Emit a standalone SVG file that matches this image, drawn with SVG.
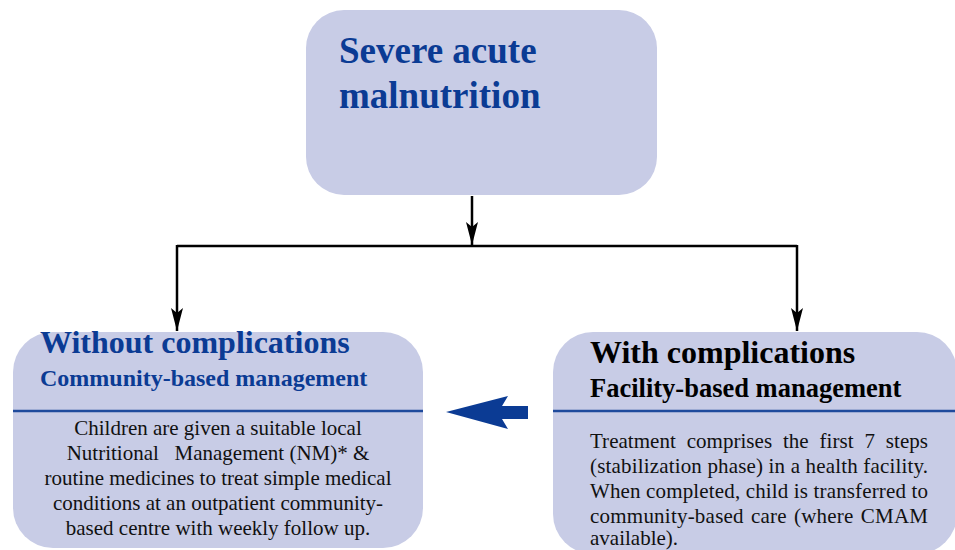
<svg xmlns="http://www.w3.org/2000/svg" width="955" height="550" viewBox="0 0 955 550">
<style>
.box{fill:#c8cce6;}
.sep{stroke:#1f4a9c;stroke-width:2.5;fill:none;}
.conn{stroke:#000;stroke-width:2.5;fill:none;}
.title{font-family:"Liberation Serif","Times New Roman",serif;font-weight:bold;fill:#0b3b94;}
.btitle{font-family:"Liberation Serif","Times New Roman",serif;font-weight:bold;fill:#000;}
.body{font-family:"Liberation Serif","Times New Roman",serif;font-size:21px;fill:#111;}
</style>
<defs>
<marker id="ah" viewBox="-1 -7 25 14" refX="23" refY="0" markerWidth="25" markerHeight="14" markerUnits="userSpaceOnUse" orient="auto">
<path d="M0,-6 L23,0 L0,6 L5,0 Z" fill="#000"/>
</marker>
</defs>
<rect width="955" height="550" fill="#fff"/>
<g id="connectors">
<line class="conn" x1="472" y1="196" x2="472" y2="245" marker-end="url(#ah)"/>
<line class="conn" x1="177" y1="246" x2="797" y2="246"/>
<line class="conn" x1="177" y1="245" x2="177" y2="331" marker-end="url(#ah)"/>
<line class="conn" x1="797" y1="245" x2="797" y2="331" marker-end="url(#ah)"/>
<polygon points="446,412 508,396 502,406 528,406 528,419 502,419 508,429" fill="#0b3b94"/>
</g>
<g id="severe">
<rect class="box" x="306" y="10" width="351" height="185" rx="38"/>
<text class="title" font-size="37" x="339" y="63">Severe acute</text>
<text class="title" font-size="37" x="339" y="108">malnutrition</text>
</g>
<g id="without">
<rect class="box" x="13" y="332" width="410" height="216" rx="40"/>
<line class="sep" x1="13" y1="411" x2="423" y2="411"/>
<text class="title" font-size="32" x="40" y="353">Without complications</text>
<text class="title" font-size="24" x="40" y="386">Community-based management</text>
<g class="body" text-anchor="middle">
<text x="218" y="435">Children are given a suitable local</text>
<text x="218" y="460" xml:space="preserve" style="white-space:pre">Nutritional   Management (NM)* &amp;</text>
<text x="218" y="485">routine medicines to treat simple medical</text>
<text x="218" y="510">conditions at an outpatient community-</text>
<text x="218" y="535">based centre with weekly follow up.</text>
</g>
</g>
<g id="with">
<rect class="box" x="553" y="332" width="404" height="222" rx="40"/>
<line class="sep" x1="553" y1="411" x2="957" y2="411"/>
<text class="btitle" font-size="32" x="590" y="363">With complications</text>
<text class="btitle" font-size="26.5" x="590" y="397">Facility-based management</text>
<g class="body">
<text x="590" y="448" word-spacing="5.6" textLength="338" lengthAdjust="spacing">Treatment comprises the first 7 steps</text>
<text x="590" y="473" textLength="338" lengthAdjust="spacing">(stabilization phase) in a health facility.</text>
<text x="590" y="498" textLength="338" lengthAdjust="spacing">When completed, child is transferred to</text>
<text x="590" y="523" word-spacing="1.7" textLength="338" lengthAdjust="spacing">community-based care (where CMAM</text>
<text x="590" y="545">available).</text>
</g>
</g>
</svg>
